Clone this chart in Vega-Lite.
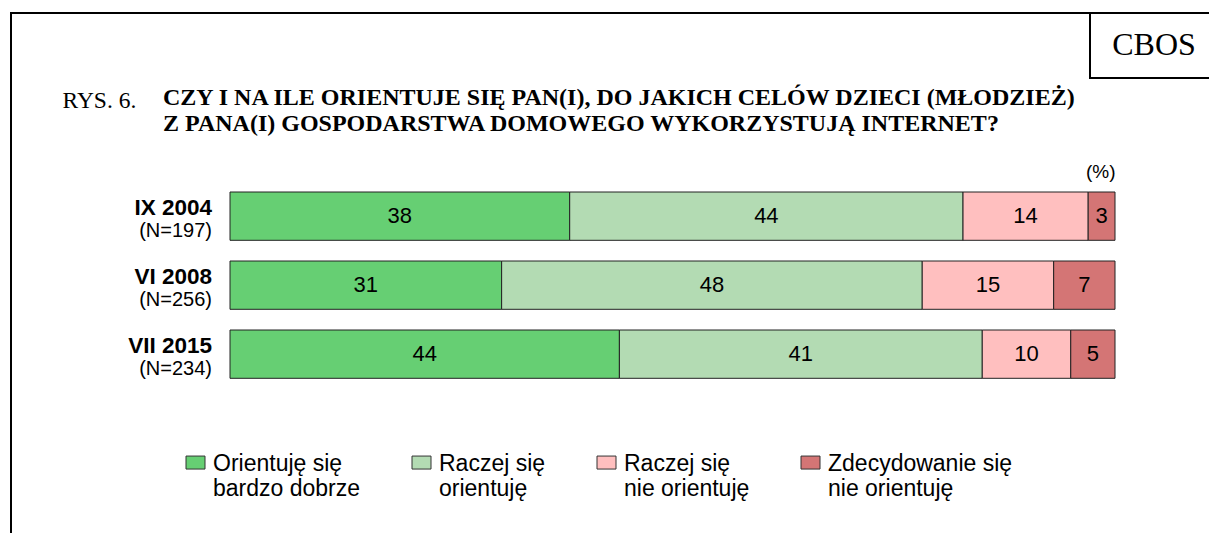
{
  "$schema": "https://vega.github.io/schema/vega-lite/v6.json",
  "autosize": {"type": "none"},
  "padding": {"left": 11, "top": 13, "right": 0, "bottom": 0},
  "width": 1220,
  "height": 540,
  "background": "white",
  "config": {
    "view": {"stroke": "black", "strokeWidth": 2},
    "font": "Liberation Sans"
  },
  "title": {
    "text": ["CZY I NA ILE ORIENTUJE SIĘ PAN(I), DO JAKICH CELÓW DZIECI (MŁODZIEŻ)", "Z PANA(I) GOSPODARSTWA DOMOWEGO WYKORZYSTUJĄ INTERNET?"],
    "anchor": "start",
    "frame": "group",
    "orient": "top",
    "offset": 0,
    "baseline": "top",
    "dx": 152,
    "dy": 124,
    "font": "Liberation Serif",
    "fontSize": 24,
    "fontWeight": "bold",
    "lineHeight": 26.5,
    "color": "black"
  },
  "datasets": {
    "bars": [
      {"period": "IX 2004", "cat": "Orientuję się|bardzo dobrze", "k": 1, "value": 38},
      {"period": "IX 2004", "cat": "Raczej się|orientuję", "k": 2, "value": 44},
      {"period": "IX 2004", "cat": "Raczej się|nie orientuję", "k": 3, "value": 14},
      {"period": "IX 2004", "cat": "Zdecydowanie się|nie orientuję", "k": 4, "value": 3},
      {"period": "VI 2008", "cat": "Orientuję się|bardzo dobrze", "k": 1, "value": 31},
      {"period": "VI 2008", "cat": "Raczej się|orientuję", "k": 2, "value": 48},
      {"period": "VI 2008", "cat": "Raczej się|nie orientuję", "k": 3, "value": 15},
      {"period": "VI 2008", "cat": "Zdecydowanie się|nie orientuję", "k": 4, "value": 7},
      {"period": "VII 2015", "cat": "Orientuję się|bardzo dobrze", "k": 1, "value": 44},
      {"period": "VII 2015", "cat": "Raczej się|orientuję", "k": 2, "value": 41},
      {"period": "VII 2015", "cat": "Raczej się|nie orientuję", "k": 3, "value": 10},
      {"period": "VII 2015", "cat": "Zdecydowanie się|nie orientuję", "k": 4, "value": 5}
    ],
    "rows": [
      {"period": "IX 2004", "n": "(N=197)"},
      {"period": "VI 2008", "n": "(N=256)"},
      {"period": "VII 2015", "n": "(N=234)"}
    ]
  },
  "encoding": {
    "y": {
      "field": "period",
      "type": "nominal",
      "sort": ["IX 2004", "VI 2008", "VII 2015"],
      "scale": {"range": [168.65, 375.65], "paddingInner": 0.3, "paddingOuter": 0.15},
      "axis": {
        "title": "RYS. 6.",
        "labels": false, "ticks": false, "domain": false, "grid": false,
        "titleAngle": 0, "titleX": 51, "titleY": 94,
        "titleAlign": "left", "titleBaseline": "alphabetic",
        "titleFont": "Liberation Serif", "titleFontSize": 23.5, "titleFontWeight": "normal", "titleColor": "black"
      }
    }
  },
  "layer": [
    {
      "data": {"name": "bars"},
      "mark": {"type": "bar", "stroke": "#222222", "strokeWidth": 1},
      "encoding": {
        "x": {
          "field": "value", "type": "quantitative", "stack": "normalize",
          "scale": {"domain": [0, 1], "range": [219, 1104], "nice": false},
          "axis": {
            "orient": "top", "title": "(%)",
            "labels": false, "ticks": false, "domain": false, "grid": false,
            "titleX": 1104, "titleY": 164, "titleAlign": "right", "titleBaseline": "alphabetic",
            "titleFont": "Liberation Sans", "titleFontSize": 19, "titleFontWeight": "normal", "titleColor": "black"
          }
        },
        "color": {
          "field": "cat", "type": "nominal",
          "scale": {
            "domain": ["Orientuję się|bardzo dobrze", "Raczej się|orientuję", "Raczej się|nie orientuję", "Zdecydowanie się|nie orientuję"],
            "range": ["#66CF73", "#B3DBB3", "#FFBFBF", "#D47575"]
          },
          "legend": {
            "title": null,
            "orient": "none",
            "legendX": 173,
            "legendY": 446,
            "direction": "horizontal",
            "columns": 4,
            "columnPadding": 49,
            "gridAlign": "each",
            "symbolType": "M-0.95,-1.47H0.95V-0.17H-0.95Z",
            "symbolSize": 400,
            "symbolStrokeColor": "#333333",
            "symbolStrokeWidth": 1,
            "labelExpr": "split(datum.label, '|')",
            "labelFont": "Liberation Sans",
            "labelFontSize": 23,
            "labelColor": "black",
            "labelOffset": 6,
            "labelLimit": 400,
            "labelBaseline": "alphabetic",
            "labelLineHeight": 23.5
          }
        },
        "order": {"field": "k", "type": "quantitative"}
      }
    },
    {
      "data": {"name": "bars"},
      "transform": [
        {"stack": "value", "groupby": ["period"], "sort": [{"field": "k"}], "offset": "normalize", "as": ["x0", "x1"]},
        {"calculate": "(datum.x0 + datum.x1) / 2", "as": "xm"}
      ],
      "mark": {"type": "text", "fontSize": 22, "color": "black", "baseline": "middle"},
      "encoding": {
        "x": {"field": "xm", "type": "quantitative"},
        "text": {"field": "value", "type": "quantitative"}
      }
    },
    {
      "data": {"name": "rows"},
      "mark": {"type": "text", "fontSize": 22.5, "fontWeight": "bold", "color": "black", "align": "right", "baseline": "alphabetic", "dx": -18, "dy": -1},
      "encoding": {
        "x": {"datum": 0, "type": "quantitative"},
        "text": {"field": "period", "type": "nominal"}
      }
    },
    {
      "data": {"name": "rows"},
      "mark": {"type": "text", "fontSize": 20, "color": "black", "align": "right", "baseline": "alphabetic", "dx": -18, "dy": 21},
      "encoding": {
        "x": {"datum": 0, "type": "quantitative"},
        "text": {"field": "n", "type": "nominal"}
      }
    },
    {
      "data": {"values": [{"label": "CBOS"}]},
      "mark": {"type": "rect", "fill": "white", "stroke": "black", "strokeWidth": 2},
      "encoding": {
        "x": {"value": 1079},
        "x2": {"value": 1240},
        "y": {"value": 0},
        "y2": {"value": 65}
      }
    },
    {
      "data": {"values": [{"label": "CBOS"}]},
      "mark": {"type": "text", "font": "Liberation Serif", "fontSize": 32, "color": "black", "align": "center", "baseline": "alphabetic"},
      "encoding": {
        "x": {"value": 1143},
        "y": {"value": 42},
        "text": {"field": "label", "type": "nominal"}
      }
    }
  ]
}
